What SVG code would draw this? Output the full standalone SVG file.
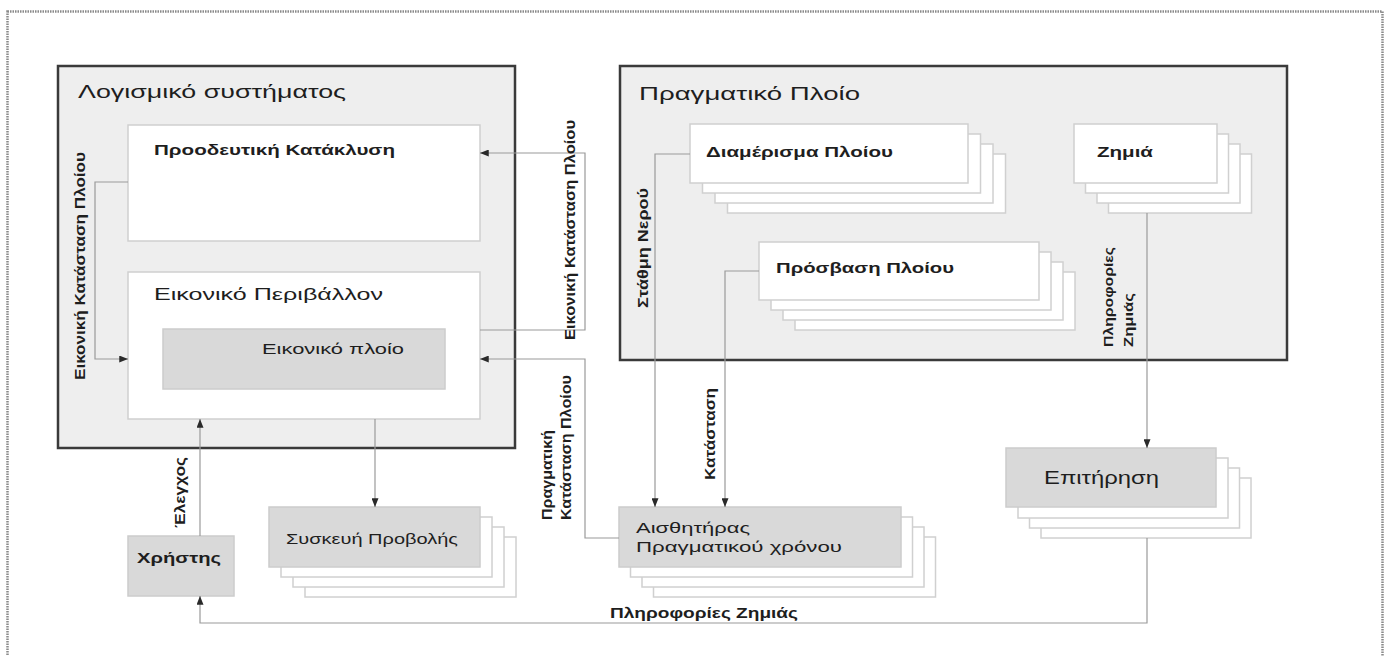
<svg xmlns="http://www.w3.org/2000/svg" width="1391" height="656" viewBox="0 0 1391 656">
<style>
text{font-family:"Liberation Sans",Arial,sans-serif;fill:#1e1e1e}
.b{font-weight:bold}
.cont{fill:#eeeeee;stroke:#3a3a3a;stroke-width:2.5}
.wbox{fill:#ffffff;stroke:#cfcfcf;stroke-width:1.5}
.gbox{fill:#d9d9d9;stroke:#cccccc;stroke-width:1.5}
.cp{fill:#ffffff;stroke:#d0d0d0;stroke-width:1.5}
.con{fill:none;stroke:#9a9a9a;stroke-width:1.2}
</style>
<defs>
<marker id="ah" viewBox="0 0 10 8" refX="10" refY="4" markerWidth="9" markerHeight="7" markerUnits="userSpaceOnUse" orient="auto">
<path d="M0,0 L10,4 L0,8 z" fill="#2a2a2a"/>
</marker>
</defs>
<rect width="1391" height="656" fill="#ffffff"/>
<rect x="7.5" y="11.5" width="1375" height="648" fill="none" stroke="#8a8a8a" stroke-width="2.5" stroke-dasharray="1.5 1"/>

<g id="software">
<rect class="cont" x="58" y="66" width="457" height="382"/>
<text x="78" y="98" font-size="18" textLength="268" lengthAdjust="spacingAndGlyphs">Λογισμικό συστήματος</text>
</g>
<g id="real-ship">
<rect class="cont" x="620" y="66" width="667" height="294"/>
<text x="639" y="100" font-size="18" textLength="221" lengthAdjust="spacingAndGlyphs">Πραγματικό Πλοίο</text>
</g>

<g id="flooding">
<rect class="wbox" x="128" y="125" width="352" height="116"/>
<text class="b" x="154" y="155" font-size="15" textLength="241" lengthAdjust="spacingAndGlyphs">Προοδευτική Κατάκλυση</text>
</g>
<g id="virtual-env">
<rect class="wbox" x="128" y="272" width="352" height="147"/>
<text x="154" y="300" font-size="17" textLength="229" lengthAdjust="spacingAndGlyphs">Εικονικό Περιβάλλον</text>
</g>
<g id="virtual-ship">
<rect class="gbox" x="163" y="329" width="282" height="60"/>
<text x="262" y="354" font-size="15" textLength="142" lengthAdjust="spacingAndGlyphs">Εικονικό πλοίο</text>
</g>

<g id="compartment">
<rect class="cp" x="727.5" y="154" width="278" height="59"/>
<rect class="cp" x="715" y="144" width="278" height="59"/>
<rect class="cp" x="702.5" y="134" width="278" height="59"/>
<rect class="wbox" x="690" y="124" width="278" height="59"/>
<text class="b" x="706" y="157" font-size="14" textLength="187" lengthAdjust="spacingAndGlyphs">Διαμέρισμα Πλοίου</text>
</g>
<g id="damage">
<rect class="cp" x="1108.5" y="154" width="143" height="59"/>
<rect class="cp" x="1097" y="144" width="143" height="59"/>
<rect class="cp" x="1085.5" y="134" width="143" height="59"/>
<rect class="wbox" x="1074" y="124" width="143" height="59"/>
<text class="b" x="1097" y="157" font-size="14" textLength="56" lengthAdjust="spacingAndGlyphs">Ζημιά</text>
</g>
<g id="access">
<rect class="cp" x="795" y="272" width="280" height="58"/>
<rect class="cp" x="783" y="262" width="280" height="58"/>
<rect class="cp" x="771" y="252" width="280" height="58"/>
<rect class="wbox" x="759" y="242" width="280" height="58"/>
<text class="b" x="776" y="273" font-size="14" textLength="178" lengthAdjust="spacingAndGlyphs">Πρόσβαση Πλοίου</text>
</g>

<g id="projector">
<rect class="cp" x="305" y="537" width="211" height="60"/>
<rect class="cp" x="293" y="527" width="211" height="60"/>
<rect class="cp" x="281" y="517" width="211" height="60"/>
<rect class="gbox" x="269" y="507" width="211" height="60"/>
<text x="286" y="544" font-size="15" textLength="172" lengthAdjust="spacingAndGlyphs">Συσκευή Προβολής</text>
</g>
<g id="user">
<rect class="gbox" x="128" y="536" width="106" height="60"/>
<text class="b" x="137" y="563" font-size="15" textLength="84" lengthAdjust="spacingAndGlyphs">Χρήστης</text>
</g>
<g id="sensor">
<rect class="cp" x="653.5" y="537" width="282" height="60"/>
<rect class="cp" x="642" y="527" width="282" height="60"/>
<rect class="cp" x="630.5" y="517" width="282" height="60"/>
<rect class="gbox" x="619" y="507" width="282" height="60"/>
<text x="636" y="533" font-size="15" textLength="114" lengthAdjust="spacingAndGlyphs">Αισθητήρας</text>
<text x="636" y="552" font-size="15" textLength="206" lengthAdjust="spacingAndGlyphs">Πραγματικού χρόνου</text>
</g>
<g id="monitoring">
<rect class="cp" x="1041" y="478" width="210" height="60"/>
<rect class="cp" x="1029.5" y="468" width="210" height="60"/>
<rect class="cp" x="1018" y="458" width="210" height="60"/>
<rect class="gbox" x="1006" y="448" width="210" height="59"/>
<text x="1044" y="484" font-size="18" textLength="115" lengthAdjust="spacingAndGlyphs">Επιτήρηση</text>
</g>

<g id="connectors">
<path class="con" d="M128,182 H95 V359 H128" marker-end="url(#ah)"/>
<path class="con" d="M480,330 H585 V153 H480" marker-end="url(#ah)"/>
<path class="con" d="M619,538 H585 V359 H480" marker-end="url(#ah)"/>
<path class="con" d="M690,154 H655 V507" marker-end="url(#ah)"/>
<path class="con" d="M759,271 H725 V507" marker-end="url(#ah)"/>
<path class="con" d="M1147,213 V448" marker-end="url(#ah)"/>
<path class="con" d="M1147,538 V623 H200 V596" marker-end="url(#ah)"/>
<path class="con" d="M375,419 V507" marker-end="url(#ah)"/>
<path class="con" d="M200,536 V419" marker-end="url(#ah)"/>
<g class="labels">
<text class="b" transform="translate(85,380) rotate(-90)" font-size="14" textLength="228" lengthAdjust="spacingAndGlyphs">Εικονική Κατάσταση Πλοίου</text>
<text class="b" transform="translate(575,340) rotate(-90)" font-size="14" textLength="220" lengthAdjust="spacingAndGlyphs">Εικονική Κατάσταση Πλοίου</text>
<text class="b" transform="translate(552,520) rotate(-90)" font-size="14" textLength="90" lengthAdjust="spacingAndGlyphs">Πραγματική</text>
<text class="b" transform="translate(571,520) rotate(-90)" font-size="14" textLength="145" lengthAdjust="spacingAndGlyphs">Κατάσταση Πλοίου</text>
<text class="b" transform="translate(648,308) rotate(-90)" font-size="14" textLength="120" lengthAdjust="spacingAndGlyphs">Στάθμη Νερού</text>
<text class="b" transform="translate(715,480) rotate(-90)" font-size="15" textLength="92" lengthAdjust="spacingAndGlyphs">Κατάσταση</text>
<text class="b" transform="translate(185,528) rotate(-90)" font-size="15" textLength="71" lengthAdjust="spacingAndGlyphs">Έλεγχος</text>
<text class="b" transform="translate(1113,347) rotate(-90)" font-size="13" textLength="100" lengthAdjust="spacingAndGlyphs">Πληροφορίες</text>
<text class="b" transform="translate(1133,347) rotate(-90)" font-size="13" textLength="54" lengthAdjust="spacingAndGlyphs">Ζημιάς</text>
<text class="b" x="610" y="618" font-size="14" textLength="188" lengthAdjust="spacingAndGlyphs">Πληροφορίες Ζημιάς</text>
</g>
</g>
</svg>
